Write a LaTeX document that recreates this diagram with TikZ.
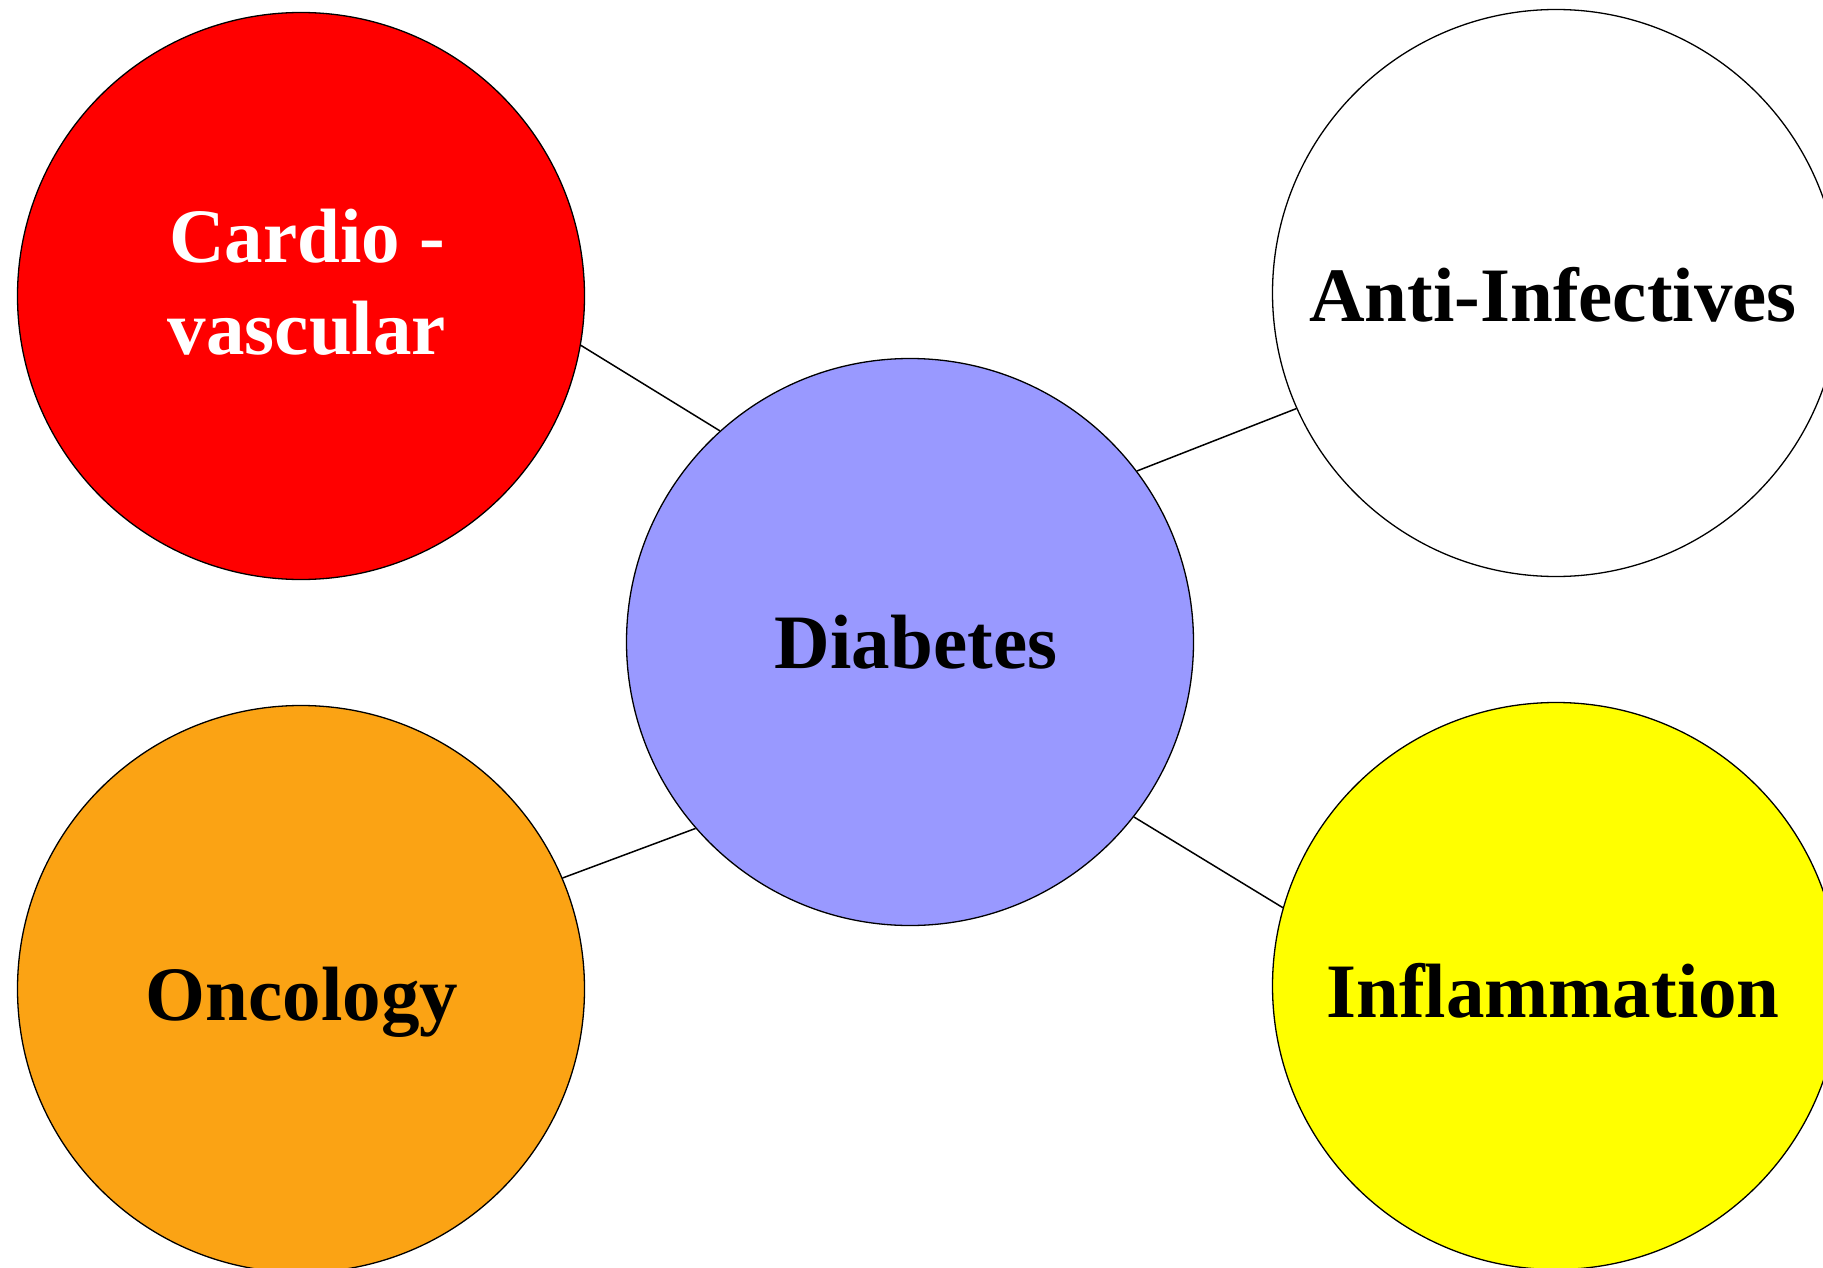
\documentclass[tikz,border=0pt]{standalone}
\usepackage{fontspec}
\setmainfont{Liberation Serif}
\definecolor{diabblue}{HTML}{9999FF}
\definecolor{oncorange}{HTML}{FBA314}
\definecolor{inflyellow}{HTML}{FFFF00}
\definecolor{cardred}{HTML}{FF0000}
\begin{document}
\begin{tikzpicture}[x=1pt,y=-1pt,
  area/.style={circle,draw=black,line width=1.3pt,minimum size=567pt,inner sep=0pt},
  lbl/.style={font=\fontsize{77}{92}\selectfont\bfseries,anchor=base,align=center,inner sep=0pt},
  link/.style={draw=black,line width=1.5pt}]
\useasboundingbox (0,0) rectangle (1823,1268);
\clip (0,0) rectangle (1823,1268);
\node[area,fill=cardred] (cardio) at (301,296) {};
\node[area,fill=white] (anti) at (1556,293) {};
\node[area,fill=diabblue] (diab) at (910,642) {};
\node[area,fill=oncorange] (onco) at (301,989) {};
\node[area,fill=inflyellow] (infl) at (1556,986) {};
\draw[link] (cardio.-10) -- (diab.132);
\draw[link] (diab.37) -- (anti.-156);
\draw[link] (onco.23) -- (diab.-139);
\draw[link] (diab.-38) -- (infl.164);
\node[lbl,text=white] (cardiot) at (307,262) {Cardio -};
\node[lbl,text=white] (cardiot2) at (307,354) {vascular};
\node[lbl] (antit) at (1553,321) {Anti-Infectives};
\node[lbl] (diabt) at (916,668) {Diabetes};
\node[lbl] (oncot) at (302,1020) {Oncology};
\node[lbl] (inflt) at (1553,1017) {Inflammation};
\end{tikzpicture}
\end{document}
